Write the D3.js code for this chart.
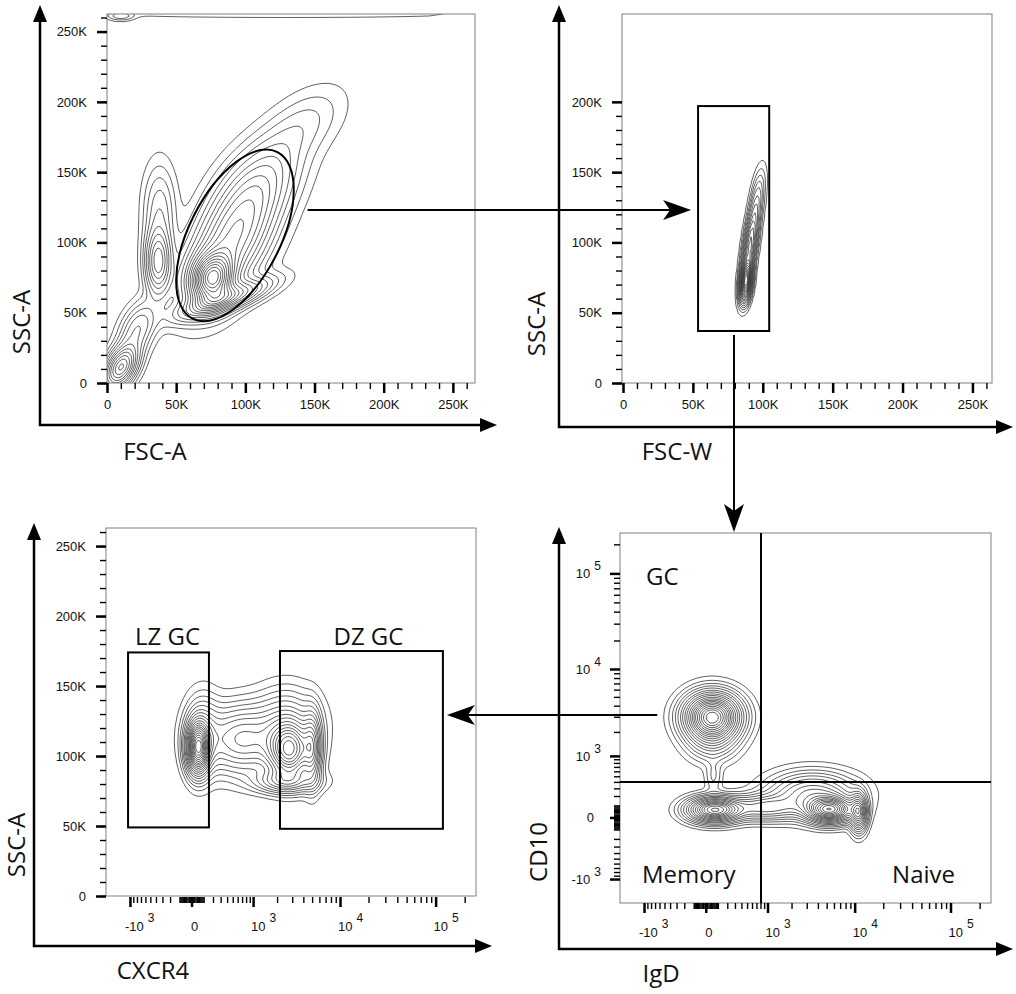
<!DOCTYPE html>
<html>
<head>
<meta charset="utf-8">
<script src="https://cdn.jsdelivr.net/npm/d3@7"></script>
<style>
  body { margin: 0; background: #fff; }
  .tick text, .tlab { font-family: "Liberation Sans", Arial, sans-serif; font-size: 13px; fill: #111; }
  .title { font-family: "Open Sans", sans-serif; font-size: 24px; fill: #111; }
</style>
</head>
<body>
<div id="chart"></div>
<script>
// ---- axis ticks ----
const LIN_MAJOR = [0, 50, 100, 150, 200, 250];             // K
const LIN_LABELS = ['0', '50K', '100K', '150K', '200K', '250K'];
const LIN_MINOR = [0, 10, 20, 30, 40, 50, 60, 70, 80, 90, 100, 110, 120, 130,
  140, 150, 160, 170, 180, 190, 200, 210, 220, 230, 240, 250, 260];
const LIN_MINOR_200 = LIN_MINOR.filter(d => d <= 200);
const BIEX_MAJOR = [-1000, 0, 1000, 10000, 100000];
const BIEX_LABELS = [['-10', '3'], ['0', ''], ['10', '3'], ['10', '4'], ['10', '5']];
const BIEX_MINOR = [10, 20, 30, 40, 50, 60, 70, 80, 90, 100, 200, 300, 400, 500, 600, 700, 800, 900];
const BIEX_MINOR_POS = [2000, 3000, 4000, 5000, 6000, 7000, 8000, 9000,
  20000, 30000, 40000, 50000, 60000, 70000, 80000, 90000, 200000];

// ---- populations: [cx, cy, sx, sy, tilt(deg), weight] ----
// linear axes in K, biex axes: centre as value, spread in symlog units
const FSC_SSC_POPS = [
  [76, 74, 9, 11, 20, 1.0],      // lymphocytes core
  [90, 100, 14, 28, 30, 0.5],
  [108, 140, 14, 24, 40, 0.22],
  [140, 182, 12, 22, 50, 0.07],  // upper tail
  [85, 60, 20, 5, -19, 0.45],    // lower edge
  [37, 86, 5.5, 14, 0, 0.4],     // left population
  [38, 122, 7, 20, 0, 0.12],
  [10, 11, 6, 10, 30, 0.6],      // debris
  [22, 38, 7, 13, 25, 0.18],
  [130, 262, 90, 1.5, 0, 0.03],  // saturated events
  [10, 261, 6, 2, 0, 0.08]
];
const FSCW_SSC_POPS = [
  [88, 72, 2.3, 8, 6, 1.0],
  [91, 98, 2.7, 16, 8, 0.45],
  [96, 130, 2.8, 13, 8, 0.12]
];
const CXCR4_SSC_POPS = [
  [50, 106, 0.16, 11, 0, 1.0],    // LZ
  [90, 115, 0.25, 16, 0, 0.2],
  [700, 112, 0.55, 14, 0, 0.35],  // bridge
  [2800, 104, 0.3, 12, 0, 0.8],   // DZ
  [5000, 106, 0.13, 15, 0, 0.4],
  [2500, 82, 0.45, 5, 0, 0.25],
  [2600, 122, 0.45, 15, 0, 0.2]
];
const IGD_CD10_POPS = [
  [50, 3000, 0.38, 0.32, 0, 1.0],  // GC
  [50, 1600, 0.35, 0.3, 0, 0.15],
  [60, 500, 0.12, 0.25, 0, 0.05],
  [70, 60, 0.37, 0.17, 0, 0.75],   // memory
  [900, 80, 0.5, 0.18, 0, 0.25],
  [5400, 60, 0.33, 0.18, 0, 0.85], // naive
  [11000, 40, 0.12, 0.26, 0, 0.5],
  [3500, 220, 0.6, 0.3, 0, 0.3]
];
const LEVELS = [0.01, 0.025, 0.045, 0.07, 0.1, 0.14, 0.18, 0.23, 0.28, 0.34,
  0.4, 0.46, 0.52, 0.58, 0.65, 0.72, 0.79, 0.86, 0.93];

// ---- gates ----
const LYMPH_GATE = [92.5, 105, 33, 66.5, 27];         // ellipse cx, cy, rx, ry, tilt
const SINGLET_GATE = [53.7, 104.6, 37, 197];          // x0, x1, y0, y1 (K)
const LZ_GATE = [-1060, 154, 49, 174];
const DZ_GATE = [2165, 119000, 48, 175];
const QUAD_GATE = [814, 398];                         // IgD, CD10 split

const C = 300;
const ident = v => v;
const biex = v => Math.sign(v) * Math.log1p(Math.abs(v) / C);

const svg = d3.select('#chart').append('svg').attr('width', 1016).attr('height', 994);
const defs = svg.append('defs');

const x1 = d3.scaleLinear().domain([0, 266]).range([107, 475]);
const y1 = d3.scaleLinear().domain([0, 262.5]).range([383, 14]);
const x2 = d3.scaleLinear().domain([0, 264]).range([623, 992]);
const y2 = d3.scaleLinear().domain([0, 262.5]).range([383, 14]);
const x3 = d3.scaleSymlog().constant(C).domain([-2000, 262144]).range([106, 476]);
const y3 = d3.scaleLinear().domain([0, 262.9]).range([896, 528]);
const x4 = d3.scaleSymlog().constant(C).domain([-2000, 262144]).range([620, 991]);
const y4 = d3.scaleSymlog().constant(C).domain([-2000, 262144]).range([903, 533]);

function contours(id, pops, x, y, tx, ty) {
  const [l, r] = x.range(), [b, t] = y.range();
  const step = 2;
  const nx = Math.ceil((r - l) / step) + 1, ny = Math.ceil((b - t) / step) + 1;
  const comps = pops.map(([cx, cy, sx, sy, tilt, w]) => {
    const a = tilt * Math.PI / 180;
    return { cx: tx(cx), cy: ty(cy), sx, sy, c: Math.cos(a), s: Math.sin(a), w };
  });
  const vals = new Float64Array(nx * ny);
  for (let j = 0; j < ny; j++) {
    const uy = ty(y.invert(t + j * step));
    for (let i = 0; i < nx; i++) {
      const ux = tx(x.invert(l + i * step));
      let sum = 0;
      for (const k of comps) {
        const dx = ux - k.cx, dy = uy - k.cy;
        const u = (dx * k.c - dy * k.s) / k.sx, v = (dx * k.s + dy * k.c) / k.sy;
        sum += k.w * Math.exp(-0.5 * (u * u + v * v));
      }
      vals[j * nx + i] = sum;
    }
  }
  const max = d3.max(vals);
  const cs = d3.contours().size([nx, ny]).thresholds(LEVELS.map(f => f * max))(vals);
  defs.append('clipPath').attr('id', id).append('rect')
    .attr('x', l).attr('y', t).attr('width', r - l).attr('height', b - t);
  const path = d3.geoPath(d3.geoIdentity().scale(step).translate([l - step / 2, t - step / 2]));
  svg.append('g').attr('clip-path', `url(#${id})`)
    .selectAll('path').data(cs).join('path')
    .attr('d', path).attr('fill', 'none')
    .attr('stroke', '#3a3a3a').attr('stroke-width', 0.8);
}

function frame(x, y, lx) {
  const [l, r] = x.range(), [b, t] = y.range();
  svg.append('rect').attr('x', lx ?? l).attr('y', t).attr('width', r - (lx ?? l)).attr('height', b - t)
    .attr('fill', 'none').attr('stroke', '#808080').attr('stroke-width', 1);
}

function styleAxis(a, w) {
  a.select('.domain').remove();
  a.selectAll('line').attr('stroke', '#000').attr('stroke-width', w);
  a.attr('font-family', null).attr('font-size', null);
}

function linX(x, b) {
  svg.append('g').attr('transform', `translate(0,${b})`)
    .call(d3.axisBottom(x).tickValues(LIN_MINOR).tickSize(6).tickFormat(''))
    .call(a => styleAxis(a, 1.4));
  svg.append('g').attr('transform', `translate(0,${b})`)
    .call(d3.axisBottom(x).tickValues(LIN_MAJOR).tickSize(10).tickPadding(7)
      .tickFormat((d, i) => LIN_LABELS[i]))
    .call(a => styleAxis(a, 2.5));
}

function linY(y, l, yMinor, yMajor) {
  svg.append('g').attr('transform', `translate(${l},0)`)
    .call(d3.axisLeft(y).tickValues(yMinor).tickSize(6).tickFormat(''))
    .call(a => styleAxis(a, 1.4));
  svg.append('g').attr('transform', `translate(${l},0)`)
    .call(d3.axisLeft(y).tickValues(yMajor).tickSize(10).tickPadding(10)
      .tickFormat(d => LIN_LABELS[LIN_MAJOR.indexOf(d)]))
    .call(a => styleAxis(a, 2.5));
}

const BIEX_ALL_MINOR = [...BIEX_MINOR, ...BIEX_MINOR.map(d => -d), ...BIEX_MINOR_POS];

function biexX(x, b) {
  svg.append('g').attr('transform', `translate(0,${b})`)
    .call(d3.axisBottom(x).tickValues(BIEX_ALL_MINOR).tickSize(6).tickFormat(''))
    .call(a => styleAxis(a, 1.4));
  svg.append('g').attr('transform', `translate(0,${b})`)
    .call(d3.axisBottom(x).tickValues(BIEX_MAJOR).tickSize(10).tickFormat(''))
    .call(a => styleAxis(a, 2.5));
  BIEX_MAJOR.forEach((v, i) => {
    const [base, exp] = BIEX_LABELS[i];
    const t = svg.append('text').attr('class', 'tlab')
      .attr('x', x(v) + (v === 0 ? 3 : (v < 0 ? -5 : -2)))
      .attr('y', b + 34).attr('text-anchor', v === 0 ? 'middle' : 'start').text(base);
    if (exp) t.append('tspan').attr('dx', 4).attr('dy', -9).attr('font-size', 12).text(exp);
  });
}

function biexY(y, l) {
  svg.append('g').attr('transform', `translate(${l},0)`)
    .call(d3.axisLeft(y).tickValues(BIEX_ALL_MINOR).tickSize(6).tickFormat(''))
    .call(a => styleAxis(a, 1.4));
  svg.append('g').attr('transform', `translate(${l},0)`)
    .call(d3.axisLeft(y).tickValues(BIEX_MAJOR).tickSize(10).tickFormat(''))
    .call(a => styleAxis(a, 2.5));
  BIEX_MAJOR.forEach((v, i) => {
    const [base, exp] = BIEX_LABELS[i];
    const t = svg.append('text').attr('class', 'tlab')
      .attr('x', l - (v === 0 ? 26 : 19)).attr('y', y(v) + 5)
      .attr('text-anchor', 'end').text(base);
    if (exp) t.append('tspan').attr('dx', 4).attr('dy', -8).attr('font-size', 12).text(exp);
  });
}

function head(tx, ty, dx, dy, len, half, notch) {
  const bx = tx - dx * len, by = ty - dy * len, nx = -dy, ny = dx;
  const pts = [[tx, ty], [bx + nx * half, by + ny * half],
    [tx - dx * (len - notch), ty - dy * (len - notch)], [bx - nx * half, by - ny * half]];
  svg.append('path').attr('d', d3.line()(pts) + 'Z').attr('fill', '#000');
}

function bigAxes(ax, ay, top, right) {
  svg.append('path').attr('d', d3.line()([[ax, top + 12], [ax, ay], [right - 12, ay]]))
    .attr('fill', 'none').attr('stroke', '#000').attr('stroke-width', 2.5);
  head(ax, top, 0, -1, 17, 7, 0);
  head(right, ay, 1, 0, 17, 7, 0);
}

function connector(xa, ya, xb, yb) {
  const len = Math.hypot(xb - xa, yb - ya), dx = (xb - xa) / len, dy = (yb - ya) / len;
  svg.append('line').attr('x1', xa).attr('y1', ya)
    .attr('x2', xb - dx * 20).attr('y2', yb - dy * 20)
    .attr('stroke', '#000').attr('stroke-width', 2);
  head(xb, yb, dx, dy, 28, 10, 7);
}

function title(text, x, y, rotate) {
  svg.append('text').attr('class', 'title').attr('text-anchor', 'middle')
    .attr('transform', `translate(${x},${y})${rotate ? ' rotate(-90)' : ''}`).text(text);
}

function rectGate(x, y, [a, b, c, d]) {
  svg.append('rect').attr('x', x(a)).attr('y', y(d))
    .attr('width', x(b) - x(a)).attr('height', y(c) - y(d))
    .attr('fill', 'none').attr('stroke', '#000').attr('stroke-width', 2);
}

// ---- panel 1: FSC-A / SSC-A ----
contours('c1', FSC_SSC_POPS, x1, y1, ident, ident);
frame(x1, y1);
linX(x1, 383);
linY(y1, 107, LIN_MINOR, LIN_MAJOR);
{
  const [cx, cy, rx, ry, tilt] = LYMPH_GATE;
  svg.append('ellipse').attr('cx', x1(cx)).attr('cy', y1(cy))
    .attr('rx', x1(rx) - x1(0)).attr('ry', y1(0) - y1(ry))
    .attr('transform', `rotate(${tilt},${x1(cx)},${y1(cy)})`)
    .attr('fill', 'none').attr('stroke', '#000').attr('stroke-width', 2);
}
bigAxes(40, 425, 5, 497);
title('SSC-A', 30, 322, true);
title('FSC-A', 155, 460);

// ---- panel 2: FSC-W / SSC-A ----
contours('c2', FSCW_SSC_POPS, x2, y2, ident, ident);
frame(x2, y2, 622);
linX(x2, 383);
linY(y2, 622, LIN_MINOR_200, LIN_MAJOR.filter(d => d <= 200));
rectGate(x2, y2, SINGLET_GATE);
bigAxes(559, 427, 5, 1013);
title('SSC-A', 545, 324, true);
title('FSC-W', 677, 460);

// ---- panel 3: CXCR4 / SSC-A ----
contours('c3', CXCR4_SSC_POPS, x3, y3, biex, ident);
frame(x3, y3);
biexX(x3, 897);
linY(y3, 106, LIN_MINOR, LIN_MAJOR);
rectGate(x3, y3, LZ_GATE);
rectGate(x3, y3, DZ_GATE);
title('LZ GC', (x3(LZ_GATE[0]) + x3(LZ_GATE[1])) / 2 - 1, 645);
title('DZ GC', (x3(DZ_GATE[0]) + x3(DZ_GATE[1])) / 2 + 7, 645);
bigAxes(34, 946, 523, 492);
title('SSC-A', 25, 845, true);
title('CXCR4', 153, 979);

// ---- panel 4: IgD / CD10 ----
contours('c4', IGD_CD10_POPS, x4, y4, biex, biex);
frame(x4, y4);
biexX(x4, 903);
biexY(y4, 620);
svg.append('line').attr('x1', x4(QUAD_GATE[0])).attr('x2', x4(QUAD_GATE[0]))
  .attr('y1', 533).attr('y2', 903).attr('stroke', '#000').attr('stroke-width', 2);
svg.append('line').attr('x1', 620).attr('x2', 991)
  .attr('y1', y4(QUAD_GATE[1])).attr('y2', y4(QUAD_GATE[1])).attr('stroke', '#000').attr('stroke-width', 2);
svg.append('text').attr('class', 'title').attr('x', 646).attr('y', 585).text('GC');
svg.append('text').attr('class', 'title').attr('x', 642).attr('y', 883).text('Memory');
svg.append('text').attr('class', 'title').attr('x', 955).attr('y', 883).attr('text-anchor', 'end').text('Naive');
bigAxes(559, 949, 527, 1013);
title('CD10', 547, 852, true);
title('IgD', 661, 982);

// ---- gating flow ----
connector(x1(145), y1(123), x2(SINGLET_GATE[0]) - 7, y1(123));
connector(x2(79.4), y2(SINGLET_GATE[2]) + 4, x2(79.4), 532);
connector(x4(-650), y4(3150), x3(DZ_GATE[1]) + 4, y4(3150));
</script>
</body>
</html>
